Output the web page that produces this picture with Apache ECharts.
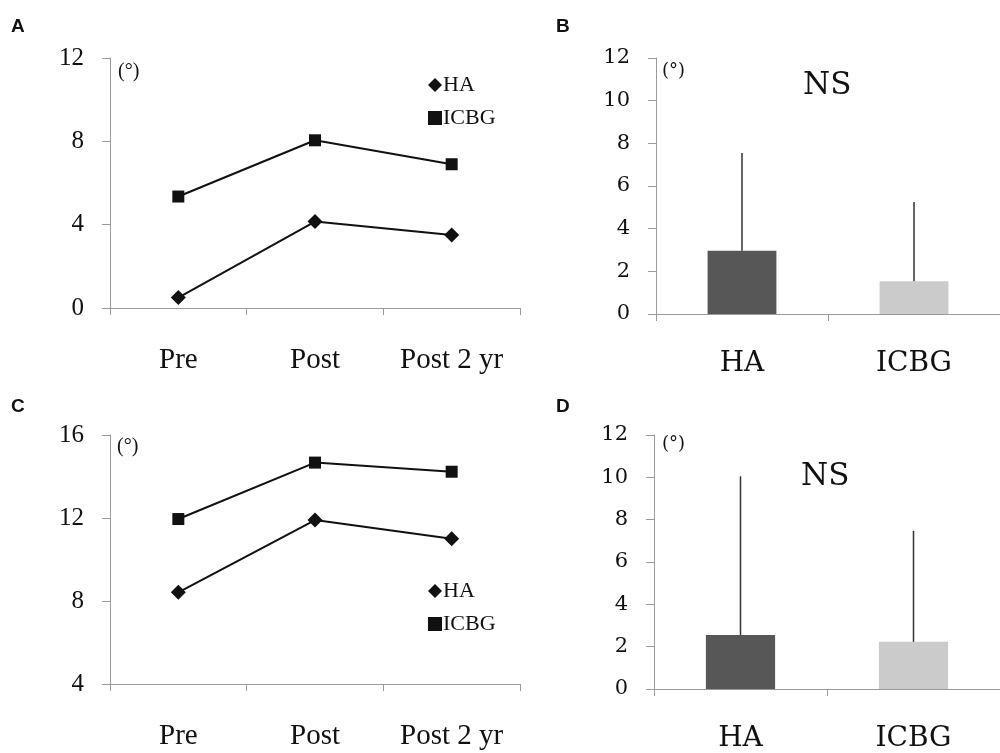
<!DOCTYPE html>
<html>
<head>
<meta charset="utf-8">
<script src="https://cdn.jsdelivr.net/npm/echarts@6/dist/echarts.min.js"></script>
<style>
html,body{margin:0;padding:0;background:#fff;}
#main{width:1000px;height:753px;}
</style>
</head>
<body>
<div id="main"></div>
<script>
// ---- data ----
const timeCats = ['Pre', 'Post', 'Post 2 yr'];
const groupCats = ['HA', 'ICBG'];
// Panel A (line)
const A_HA = [0.5, 4.15, 3.5];
const A_ICBG = [5.35, 8.05, 6.9];
// Panel C (line)
const C_HA = [8.42, 11.9, 11.0];
const C_ICBG = [11.95, 14.67, 14.23];
// Panel B (bar mean and upper error end)
const B_mean = [2.97, 1.53];
const B_upper = [7.55, 5.25];
// Panel D (bar mean and upper error end)
const D_mean = [2.55, 2.23];
const D_upper = [10.05, 7.47];
// tick ranges
const A_yTicks = {min: 0, max: 12, interval: 4};
const C_yTicks = {min: 4, max: 16, interval: 4};
const BD_yTicks = {min: 0, max: 12, interval: 2};

const barColors = ['#575757', '#cbcbcb'];
const axisGray = '#9a9a9a';
const lineFont = 'Liberation Serif';
const barFont = 'DejaVu Serif';

function yAxis(grid, ticks, font, size, margin) {
  return {
    type: 'value', gridIndex: grid, min: ticks.min, max: ticks.max, interval: ticks.interval,
    axisLine: {show: true, lineStyle: {color: axisGray, width: 1}},
    axisTick: {show: true, length: 8, lineStyle: {color: axisGray}},
    splitLine: {show: false},
    axisLabel: {fontFamily: font, fontSize: size, color: '#111', margin: margin}
  };
}
function xAxis(grid, cats, font, size, margin) {
  return {
    type: 'category', gridIndex: grid, data: cats,
    axisLine: {show: true, lineStyle: {color: axisGray, width: 1}},
    axisTick: {show: true, length: 7, lineStyle: {color: axisGray}},
    axisLabel: {fontFamily: font, fontSize: size, color: '#111', margin: margin}
  };
}
function lineSeries(name, data, xi, yi, sym, size) {
  return {
    type: 'line', name: name, xAxisIndex: xi, yAxisIndex: yi, data: data,
    symbol: sym, symbolSize: size,
    lineStyle: {color: '#111', width: 2},
    itemStyle: {color: '#111'}
  };
}
function errSeries(mean, upper, xi, yi) {
  return {
    type: 'custom', xAxisIndex: xi, yAxisIndex: yi,
    data: mean.map((m, i) => [i, m, upper[i]]),
    renderItem: function (params, api) {
      const p0 = api.coord([api.value(0), api.value(1)]);
      const p1 = api.coord([api.value(0), api.value(2)]);
      return {type: 'line', shape: {x1: p0[0], y1: p0[1], x2: p1[0], y2: p1[1]},
              style: {stroke: '#333', lineWidth: 1.5}};
    },
    z: 5
  };
}
function barSeries(mean, xi, yi) {
  return {
    type: 'bar', xAxisIndex: xi, yAxisIndex: yi, barWidth: '40%',
    data: mean.map((v, i) => ({value: v, itemStyle: {color: barColors[i]}}))
  };
}
function txt(x, y, s, font, size, weight) {
  return {type: 'text', left: x, top: y,
    style: {text: s, font: (weight || 'normal') + ' ' + size + 'px "' + font + '"', fill: '#111'}};
}
function legend(top) {
  return {
    orient: 'vertical', left: 423, top: top, itemWidth: 14, itemHeight: 14, itemGap: 11,
    textStyle: {fontFamily: lineFont, fontSize: 22, color: '#111', padding: [0, 0, 0, -4]},
    data: [{name: 'HA', icon: 'diamond'}, {name: 'ICBG', icon: 'rect'}],
    selectedMode: false
  };
}

const chart = echarts.init(document.getElementById('main'));
chart.setOption({
  animation: false,
  backgroundColor: '#fff',
  grid: [
    {left: 110, top: 58, width: 410, height: 250},
    {left: 656, top: 58, width: 350, height: 256},
    {left: 110, top: 435, width: 410, height: 249},
    {left: 654, top: 435, width: 350, height: 256}
  ],
  xAxis: [
    xAxis(0, timeCats, lineFont, 29, 38),
    xAxis(1, groupCats, barFont, 28, 36),
    xAxis(2, timeCats, lineFont, 29, 38),
    xAxis(3, groupCats, barFont, 28, 36)
  ],
  yAxis: [
    yAxis(0, A_yTicks, lineFont, 25, 26),
    yAxis(1, BD_yTicks, barFont, 21, 26),
    yAxis(2, C_yTicks, lineFont, 25, 26),
    yAxis(3, BD_yTicks, barFont, 21, 26)
  ],
  legend: [legend(69), legend(575)],
  series: [
    lineSeries('HA', A_HA, 0, 0, 'diamond', 15),
    lineSeries('ICBG', A_ICBG, 0, 0, 'rect', 12),
    barSeries(B_mean, 1, 1),
    errSeries(B_mean, B_upper, 1, 1),
    lineSeries('HA', C_HA, 2, 2, 'diamond', 15),
    lineSeries('ICBG', C_ICBG, 2, 2, 'rect', 12),
    barSeries(D_mean, 3, 3),
    errSeries(D_mean, D_upper, 3, 3)
  ],
  graphic: [
    txt(11, 17, 'A', 'Liberation Sans', 19, 'bold'),
    txt(556, 17, 'B', 'Liberation Sans', 19, 'bold'),
    txt(11, 397, 'C', 'Liberation Sans', 19, 'bold'),
    txt(556, 397, 'D', 'Liberation Sans', 19, 'bold'),
    txt(118, 62, '(°)', lineFont, 20),
    txt(662, 62, '(°)', barFont, 18),
    txt(117, 437, '(°)', lineFont, 20),
    txt(662, 435, '(°)', barFont, 18),
    txt(803, 70, 'NS', barFont, 31),
    txt(801, 461, 'NS', barFont, 31)
  ]
});
</script>
</body>
</html>
